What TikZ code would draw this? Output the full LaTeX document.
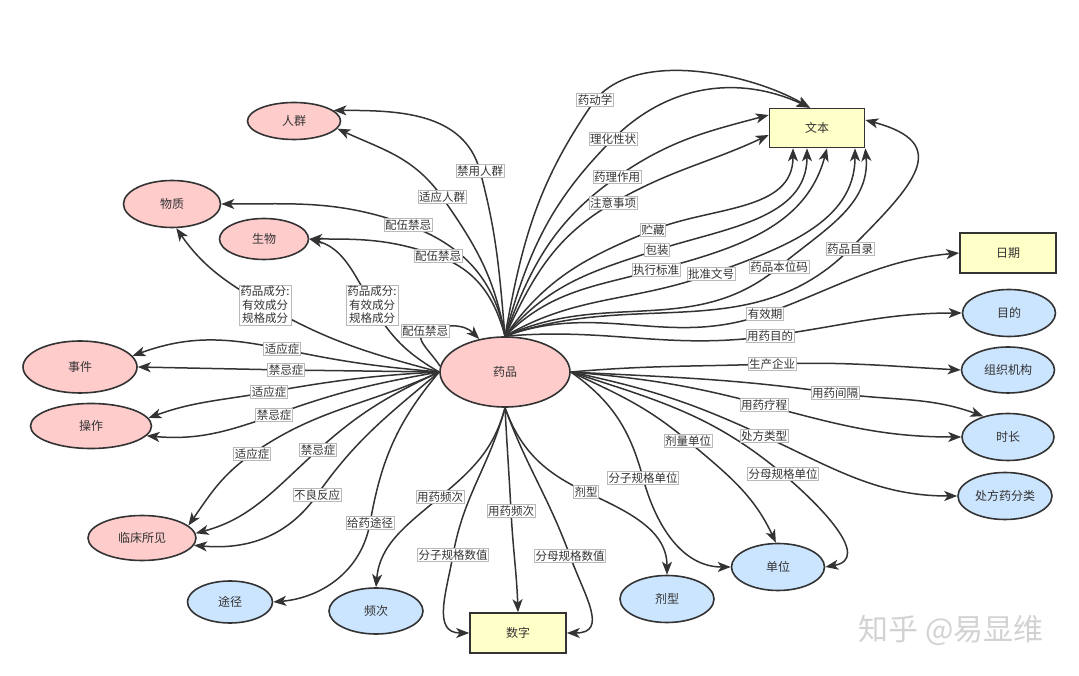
\documentclass[tikz,border=0pt]{standalone}
\usepackage{fontspec}
\setmainfont{Noto Sans CJK SC}
\usepackage{tikz}
\usetikzlibrary{shapes.geometric, arrows.meta}
\definecolor{pinkfill}{HTML}{FFCCCC}
\definecolor{bluefill}{HTML}{CCE5FF}
\definecolor{yellowfill}{HTML}{FFFFC8}
\definecolor{darkline}{HTML}{333333}
\pgfdeclarelayer{edges}
\pgfsetlayers{edges,main}
\tikzset{
        base_node/.style={draw=darkline, line width=1.6pt, inner sep=0pt, text=darkline,
                          font=\fontsize{12}{14}\selectfont},
        n_pink/.style={base_node, ellipse, fill=pinkfill},
        n_blue/.style={base_node, ellipse, fill=bluefill},
        n_text/.style={base_node, rectangle, fill=yellowfill, minimum width=96pt, minimum height=40pt},
        e_lbl/.style={fill=white, draw=gray!55, line width=0.5pt, inner sep=1.2pt, text=darkline,
                      font=\fontsize{11.5}{13.5}\selectfont},
        e_line/.style={draw=darkline, line width=1.5pt, -{Stealth[length=13pt, width=10pt, inset=3.5pt]}},
        wm_text/.style={text=gray!35, font=\fontsize{30}{34}\selectfont}
    }

\begin{document}
\begin{tikzpicture}[x=1pt, y=1pt]
    \useasboundingbox (0,0) rectangle (1079,675);
    % classes
    \node[n_pink, minimum width=130pt, minimum height=70pt] (yp) at (505,303) {药品};
    \node[n_pink, minimum width=93pt, minimum height=37pt] (rq) at (294,554) {人群};
    \node[n_pink, minimum width=97pt, minimum height=47pt] (wz) at (172,471) {物质};
    \node[n_pink, minimum width=89pt, minimum height=41pt] (sw) at (264,436) {生物};
    \node[n_pink, minimum width=114pt, minimum height=52pt] (sj) at (80,308) {事件};
    \node[n_pink, minimum width=121pt, minimum height=45pt] (cz) at (91,249) {操作};
    \node[n_pink, minimum width=108pt, minimum height=45pt] (lcsj) at (142,137) {临床所见};
    \node[n_blue, minimum width=85pt, minimum height=42pt] (tj) at (230,73) {途径};
    \node[n_blue, minimum width=94pt, minimum height=46pt] (pc) at (376,64) {频次};
    \node[n_text] (sz) at (518,42) {数字};
    \node[n_blue, minimum width=94pt, minimum height=47pt] (jx) at (667,76) {剂型};
    \node[n_blue, minimum width=93pt, minimum height=47pt] (dw) at (778,108) {单位};
    \node[n_blue, minimum width=94pt, minimum height=47pt] (cfy) at (1005,179) {处方药分类};
    \node[n_blue, minimum width=92pt, minimum height=47pt] (sc) at (1008,238) {时长};
    \node[n_blue, minimum width=93pt, minimum height=46pt] (zz) at (1008,305) {组织机构};
    \node[n_blue, minimum width=93pt, minimum height=47pt] (md) at (1009,362) {目的};
    \node[n_text] (rqi) at (1008,422) {日期};
    \node[n_text, minimum width=95pt, minimum height=39pt] (wb) at (817,547) {文本};

    % relation labels
    \node[e_lbl] (l_jyrq) at (480,504) {禁用人群};
    \node[e_lbl] (l_syrq) at (442,478) {适应人群};
    \node[e_lbl] (l_pw1) at (408,450) {配伍禁忌};
    \node[e_lbl] (l_pw2) at (438,419) {配伍禁忌};
    \node[e_lbl] (l_pw3) at (425,344) {配伍禁忌};
    \node[e_lbl, align=center] (l_cf1) at (265,370) {药品成分:\\有效成分\\规格成分};
    \node[e_lbl, align=center] (l_cf2) at (372,370) {药品成分:\\有效成分\\规格成分};
    \node[e_lbl] (l_ydx) at (595,575) {药动学};
    \node[e_lbl] (l_lhxz) at (613,536) {理化性状};
    \node[e_lbl] (l_ylzy) at (617,498) {药理作用};
    \node[e_lbl] (l_zysx) at (613,472) {注意事项};
    \node[e_lbl] (l_zc) at (653,445) {贮藏};
    \node[e_lbl] (l_bz) at (657,425) {包装};
    \node[e_lbl] (l_zxbz) at (656,405) {执行标准};
    \node[e_lbl] (l_pzwh) at (711,401) {批准文号};
    \node[e_lbl] (l_ypbwm) at (779,408) {药品本位码};
    \node[e_lbl] (l_ypml) at (850,426) {药品目录};
    \node[e_lbl] (l_yxq) at (765,361) {有效期};
    \node[e_lbl] (l_yymd) at (770,339) {用药目的};
    \node[e_lbl] (l_scqy) at (772,311) {生产企业};
    \node[e_lbl] (l_yyjg) at (835,282) {用药间隔};
    \node[e_lbl] (l_yylc) at (764,270) {用药疗程};
    \node[e_lbl] (l_cflx) at (764,239) {处方类型};
    \node[e_lbl] (l_fmdw) at (783,201) {分母规格单位};
    \node[e_lbl] (l_jldw) at (688,234) {剂量单位};
    \node[e_lbl] (l_fzdw) at (643,197) {分子规格单位};
    \node[e_lbl] (l_jx) at (586,183) {剂型};
    \node[e_lbl] (l_yypc1) at (440,178) {用药频次};
    \node[e_lbl] (l_fzsz) at (453,120) {分子规格数值};
    \node[e_lbl] (l_yypc2) at (511,164) {用药频次};
    \node[e_lbl] (l_fmsz) at (570,119) {分母规格数值};
    \node[e_lbl] (l_syz1) at (282,326) {适应症};
    \node[e_lbl] (l_jjz1) at (286,305) {禁忌症};
    \node[e_lbl] (l_syz2) at (269,283) {适应症};
    \node[e_lbl] (l_jjz2) at (274,260) {禁忌症};
    \node[e_lbl] (l_syz3) at (252,221) {适应症};
    \node[e_lbl] (l_jjz3) at (318,225) {禁忌症};
    \node[e_lbl] (l_blfy) at (317,180) {不良反应};
    \node[e_lbl] (l_gytj) at (370,152) {给药途径};

    \node[wm_text] (wm) at (951,45) {知乎 @易显维};

    \begin{pgfonlayer}{edges}
        % upper left
        \draw[e_line] (yp.north) to[out=95,in=285] (l_jyrq.center) to[out=105,in=0] (rq.15);
        \draw[e_line] (yp.north) to[out=100,in=305] (l_syrq.center) to[out=125,in=-25] (rq.-10);
        \draw[e_line] (yp.north) to[out=100,in=340] (l_pw1.center) to[out=160,in=0] (wz.east);
        \draw[e_line] (yp.north) to[out=105,in=340] (l_pw2.center) to[out=160,in=0] (sw.east);
        \draw[e_line] (yp.175) to[out=120,in=200] (l_pw3.center) to[out=20,in=135] (yp.128);
        % text
        \draw[e_line] (yp.north) to[out=80,in=235] (l_ydx.center) to[out=50,in=150,looseness=0.8] ([xshift=-7pt]wb.north);
        \draw[e_line] (yp.north) to[out=75,in=225] (l_lhxz.center) to[out=45,in=155] ([xshift=-7pt]wb.north);
        \draw[e_line] (yp.north) to[out=70,in=215] (l_ylzy.center) to[out=35,in=195] ([yshift=13pt]wb.west);
        \draw[e_line] (yp.north) to[out=65,in=210] (l_zysx.center) to[out=30,in=205] ([yshift=-7pt]wb.west);
        \draw[e_line] (yp.north) to[out=55,in=202] (l_zc.center) to[out=22,in=270] ([xshift=-24pt]wb.south);
        \draw[e_line] (yp.north) to[out=50,in=198] (l_bz.center) to[out=18,in=270] ([xshift=-10pt]wb.south);
        \draw[e_line] (yp.north) to[out=45,in=195] (l_zxbz.center) to[out=15,in=255] ([xshift=10pt]wb.south);
        \draw[e_line] (yp.north) to[out=30,in=200] (l_pzwh.center) to[out=20,in=270] ([xshift=38pt]wb.south);
        \draw[e_line] (yp.north) to[out=25,in=220] (l_ypbwm.center) to[out=40,in=275] (wb.south east);
        \draw[e_line] (yp.north) to[out=20,in=225] (l_ypml.center) to[out=45,in=-15,looseness=1.8] ([yshift=8pt]wb.east);
        % date, purpose
        \draw[e_line] (yp.north) to[out=20,in=200] (l_yxq.center) to[out=20,in=185] (rqi.west);
        \draw[e_line] (yp.north) to[out=5,in=188] (l_yymd.center) to[out=8,in=180] (md.west);
        % right
        \draw[e_line] (yp.east) to[out=5,in=182] (l_scqy.center) to[out=2,in=177] (zz.west);
        \draw[e_line] (yp.east) to[out=-3,in=172] (l_yyjg.center) to[out=-8,in=160] (sc.140);
        \draw[e_line] (yp.east) to[out=-5,in=165] (l_yylc.center) to[out=-15,in=180] (sc.west);
        \draw[e_line] (yp.east) to[out=-12,in=155] (l_cflx.center) to[out=-25,in=180] (cfy.west);
        \draw[e_line] (yp.east) to[out=-18,in=140] (l_fmdw.center) to[out=-40,in=10,looseness=1.2] (dw.east);
        \draw[e_line] (yp.east) to[out=-25,in=140] (l_jldw.center) to[out=-40,in=115] (dw.95);
        \draw[e_line] (yp.east) to[out=-35,in=105] (l_fzdw.center) to[out=-75,in=180] (dw.west);
        % bottom
        \draw[e_line] (yp.south) to[out=-70,in=155] (l_jx.center) to[out=-25,in=90] (jx.north);
        \draw[e_line] (yp.south) to[out=-105,in=40] (l_yypc1.center) to[out=-140,in=85] (pc.north);
        \draw[e_line] (yp.south) to[out=-105,in=80] (l_fzsz.center) to[out=-100,in=180,looseness=1.2] (sz.west);
        \draw[e_line] (yp.south) to[out=-87,in=93] (l_yypc2.center) to[out=-87,in=92] (sz.north);
        \draw[e_line] (yp.south) to[out=-70,in=110] (l_fmsz.center) to[out=-70,in=0,looseness=1.4] (sz.east);
        % left
        \draw[e_line] (yp.west) to[out=165,in=-30] (l_cf1.center) to[out=150,in=-55] (wz.-80);
        \draw[e_line] (yp.west) to[out=150,in=-60] (l_cf2.center) to[out=120,in=-15] (sw.east);
        \draw[e_line] (yp.west) to[out=175,in=-12] (l_syz1.center) to[out=168,in=20] (sj.12);
        \draw[e_line] (yp.west) -- (l_jjz1.center) -- (sj.east);
        \draw[e_line] (yp.west) to[out=183,in=10] (l_syz2.center) to[out=190,in=20] (cz.8);
        \draw[e_line] (yp.west) to[out=190,in=20] (l_jjz2.center) to[out=200,in=-5] (cz.-10);
        \draw[e_line] (yp.west) to[out=205,in=35] (l_syz3.center) to[out=215,in=55] (lcsj.15);
        \draw[e_line] (yp.west) to[out=205,in=42] (l_jjz3.center) to[out=222,in=15] (lcsj.5);
        \draw[e_line] (yp.west) to[out=220,in=55] (l_blfy.center) to[out=235,in=-5] (lcsj.-8);
        \draw[e_line] (yp.west) to[out=230,in=80] (l_gytj.center) to[out=260,in=5] (tj.east);
    \end{pgfonlayer}
\end{tikzpicture}
\end{document}
